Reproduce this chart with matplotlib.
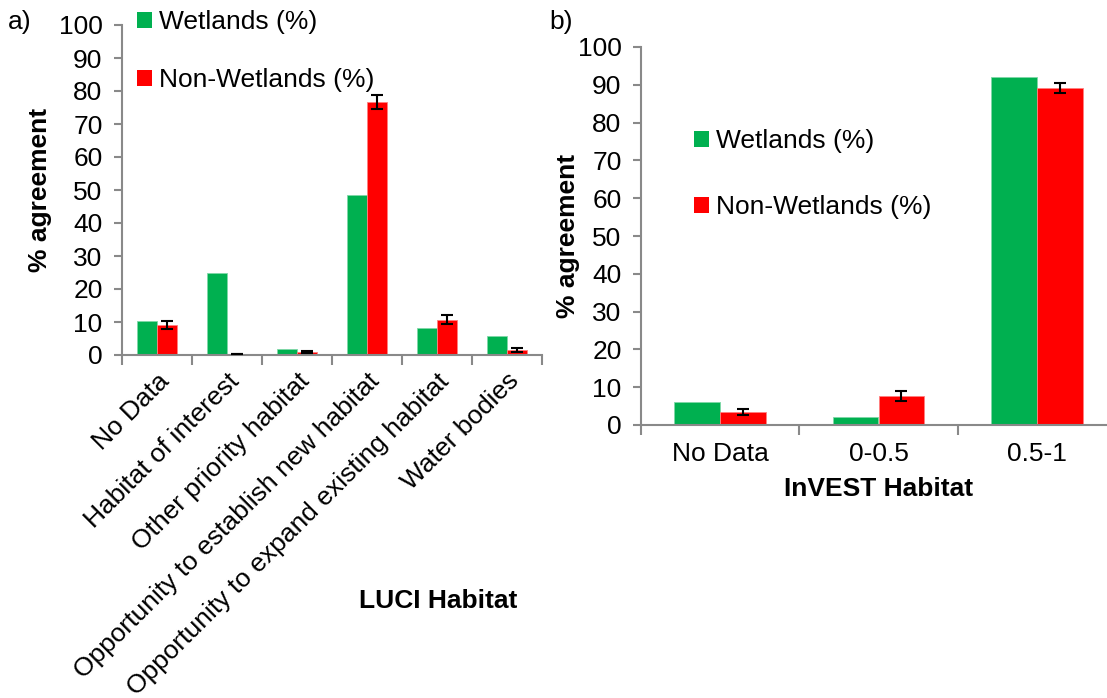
import matplotlib
matplotlib.use("Agg")
import matplotlib.pyplot as plt
import numpy as np
from matplotlib.patches import Patch

plt.rcParams['font.family'] = ['Liberation Sans', 'DejaVu Sans']

# ---- data ----
luci_categories = ["No Data", "Habitat of interest", "Other priority habitat",
                   "Opportunity to establish new habitat",
                   "Opportunity to expand existing habitat", "Water bodies"]
luci_wet = [10.2, 24.8, 1.7, 48.5, 8.1, 5.8]
luci_nonwet = [9.1, 0.3, 0.9, 76.6, 10.7, 1.5]
luci_nonwet_err = [1.3, 0.0, 0.4, 2.1, 1.4, 0.6]

invest_categories = ["No Data", "0-0.5", "0.5-1"]
invest_wet = [6.0, 2.2, 92.1]
invest_nonwet = [3.4, 7.7, 89.2]
invest_nonwet_err = [0.8, 1.35, 1.4]

legend_labels = ["Wetlands (%)", "Non-Wetlands (%)"]
yticks = list(range(0, 101, 10))

GREEN = "#00B050"
RED = "#FF0000"
SPINE = "#898989"
FS = 19

W, H = 1107, 698
fig = plt.figure(figsize=(W / 100, H / 100), dpi=100)


def px_axes(x0, y0, x1, y1):
    return fig.add_axes([x0 / W, 1 - y1 / H, (x1 - x0) / W, (y1 - y0) / H])


def style(ax, cats, wet, nonwet, err):
    n = len(cats)
    x = np.arange(n)
    bw = 0.29
    ax.bar(x - bw / 2, wet, bw, color=GREEN, edgecolor="#7fd8a7", linewidth=0.6, zorder=2)
    ax.bar(x + bw / 2, nonwet, bw, color=RED, edgecolor="#ff8080", linewidth=0.6, zorder=2)
    ax.errorbar(x + bw / 2, nonwet, yerr=err, fmt="none", ecolor="black",
                elinewidth=1.5, capsize=4.5, capthick=1.5, zorder=3)
    ax.set_xlim(-0.5, n - 0.5)
    ax.set_ylim(0, 100)
    ax.set_yticks(yticks)
    ax.set_xticks(x)
    ax.set_xticks(np.arange(n + 1) - 0.5, minor=True)
    for s in ["top", "right"]:
        ax.spines[s].set_visible(False)
    for s in ["left", "bottom"]:
        ax.spines[s].set_color(SPINE)
        ax.spines[s].set_linewidth(1.5)
    ax.tick_params(axis="y", direction="out", length=6, width=1.5, color=SPINE,
                   labelsize=FS, pad=8)
    ax.tick_params(axis="x", which="major", length=0, labelsize=FS, pad=12)
    ax.tick_params(axis="x", which="minor", direction="out", length=7, width=1.5, color=SPINE)
    ax.set_ylabel("% agreement", fontsize=FS, fontweight="bold")


# ---- panel a ----
ax1 = px_axes(122, 25, 542, 355)
style(ax1, luci_categories, luci_wet, luci_nonwet, luci_nonwet_err)
ax1.set_xticklabels(luci_categories, rotation=45, ha="right", va="top",
                    rotation_mode="anchor")
ax1.tick_params(axis="x", which="major", pad=10)
ax1.yaxis.set_label_coords(-0.167, 0.5)
ax1.set_xlabel("LUCI Habitat", fontsize=FS, fontweight="bold")
ax1.xaxis.set_label_coords(0.752, -0.71)

# ---- panel b ----
ax2 = px_axes(641, 47, 1116, 425)
style(ax2, invest_categories, invest_wet, invest_nonwet, invest_nonwet_err)
ax2.set_xticklabels(invest_categories)
ax2.yaxis.set_label_coords(-0.128, 0.5)
ax2.set_xlabel("InVEST Habitat", fontsize=FS, fontweight="bold", labelpad=8)

handles = [Patch(facecolor=GREEN), Patch(facecolor=RED)]
leg_kw = dict(frameon=False, fontsize=FS, handlelength=0.55, handleheight=0.55,
              handletextpad=0.3, borderaxespad=0, borderpad=0,
              loc="upper left", bbox_transform=fig.transFigure)
fig.legend(handles, legend_labels, bbox_to_anchor=(137 / W, 1 - 10 / H),
           labelspacing=1.3, **leg_kw)
fig.legend(handles, legend_labels, bbox_to_anchor=(694 / W, 1 - 129 / H),
           labelspacing=1.6, **leg_kw)

fig.text(8 / W, 1 - 22 / H, "a)", fontsize=FS, va="center", ha="left")
fig.text(549 / W, 1 - 22 / H, "b)", fontsize=FS, va="center", ha="left")

fig.savefig("out.png", dpi=100)
